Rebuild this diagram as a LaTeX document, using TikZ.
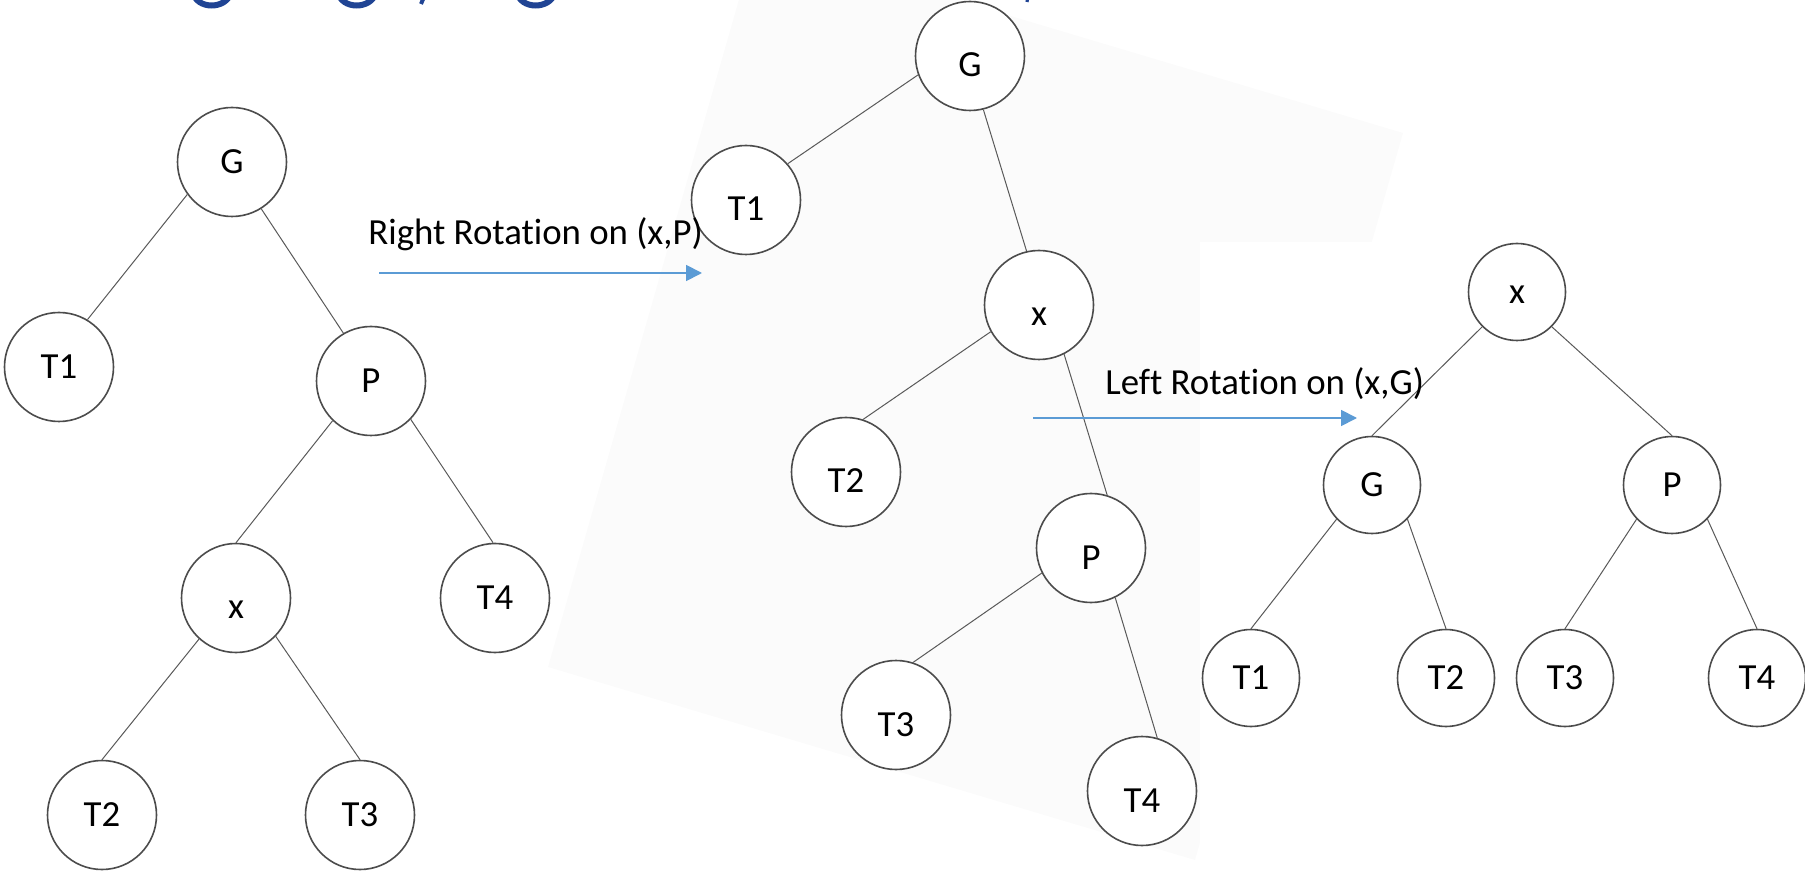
\documentclass[tikz,border=0pt]{standalone}
\usepackage{fontspec}
\setmainfont{Carlito}[Ligatures={NoCommon}]
\usetikzlibrary{calc}
\usetikzlibrary{arrows.meta}

\definecolor{rotblue}{RGB}{91,155,213}
\definecolor{titleblue}{RGB}{32,68,148}
\definecolor{pagegray}{RGB}{251,251,251}

\tikzset{
 tnode/.style={circle, draw=black!70, line width=.8pt, fill=white, inner sep=0, minimum size=54.5pt,
   font=\fontsize{18.4}{20}\selectfont, text height=11.6pt, text depth=0pt},
 mnode/.style={tnode, text height=21pt},
 rnode/.style={tnode, minimum size=48.5pt},
 treeline/.style={black!65, line width=.5pt},
 rotarrow/.style={rotblue, line width=.9pt, -{Triangle[length=8pt, width=8pt]}},
 rotlabel/.style={anchor=base west, inner sep=0, font=\fontsize{18.4}{20}\selectfont}
}

\begin{document}
\begin{tikzpicture}[x=.5pt, y=-.5pt]
\useasboundingbox (0,0) rectangle (1805,871);
\begin{scope}
\clip (0,0) rectangle (1805,871);
\fill[fill=pagegray] (756,-60) -- (1403,133) -- (1195,860) -- (548,667) -- cycle;
\fill[fill=white] (1200,242) rectangle (1805,871);
\foreach \gx in {193, 338, 517}
 \draw[titleblue, line width=3pt] (\gx,-8) .. controls (\gx+3,10) and (\gx+34,10) .. (\gx+38,-8);
\draw[titleblue, line width=2pt] (424,-3) -- (421,4);
\draw[titleblue, line width=1.6pt] (1028,-3) -- (1027,2);
\end{scope}

% before
\foreach \n/\t/\px/\py in {lG/G/232/162, lT1/T1/59/367, lP/P/371/381, lT4/T4/495/598, lT2/T2/102/815, lT3/T3/360/815}
 \node[tnode] (\n) at (\px,\py) {\t};
\node[tnode, text height=20pt] (lx) at (236,598) {x};
\foreach \a/\b in {lG.216/lT1.59, lG.-58/lP.120, lP.226/lx.90, lP.-44/lT4.92, lx.228/lT2.90, lx.-44/lT3.90}
 \draw[treeline] (\a) -- (\b);

% after right rotation
\foreach \n/\t/\px/\py in {mG/G/970/56, mT1/T1/746/200, mx/x/1039/305, mT2/T2/846/472, mP/P/1091/548, mT3/T3/896/715, mT4/T4/1142/791}
 \node[mnode] (\n) at (\px,\py) {\t};
\foreach \a/\b in {mG.200/mT1.41, mG.-76/mx.103, mx.209/mT2.72, mx.-63/mP.73, mP.207/mT3.72, mP.-64/mT4.74}
 \draw[treeline] (\a) -- (\b);

% after left rotation
\foreach \n/\t/\px/\py in {rx/x/1517/292, rG/G/1372/485, rP/P/1672/485, rT1/T1/1251/678, rT2/T2/1446/678, rT3/T3/1565/678, rT4/T4/1757/678}
 \node[rnode] (\n) at (\px,\py) {\t};
\foreach \a/\b in {rx.225/rG.90, rx.-45/rP.90, rG.224/rT1.90, rG.-44/rT2.90, rP.224/rT3.90, rP.-44/rT4.90}
 \draw[treeline] (\a) -- (\b);

\coordinate (rr1) at (379,273);
\coordinate (rr2) at (702,273);
\coordinate (lr1) at (1033,418);
\coordinate (lr2) at (1357,418);
\node[rotlabel] (rrtext) at (368,245) {Right Rotation on (x,P)};
\node[rotlabel] (lrtext) at (1105,395) {Left Rotation on (x,G)};
\draw[rotarrow] (rr1) -- (rr2);
\draw[rotarrow] (lr1) -- (lr2);
\end{tikzpicture}
\end{document}
